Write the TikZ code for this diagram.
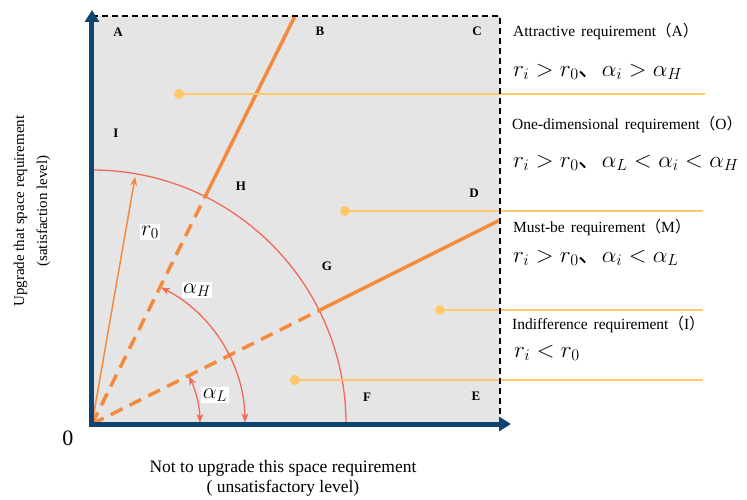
\documentclass[tikz,border=0pt]{standalone}
\usepackage{fontspec}
\setmainfont{Liberation Serif}
\newfontfamily\cjk{Noto Sans CJK SC}
\usetikzlibrary{arrows.meta}
\definecolor{axisblue}{RGB}{14,68,112}
\definecolor{boxgray}{RGB}{229,229,229}
\definecolor{rayorange}{RGB}{246,138,60}
\definecolor{arcred}{RGB}{242,104,90}
\definecolor{leadyellow}{RGB}{255,200,105}
\begin{document}
\begin{tikzpicture}[x=1pt,y=1pt,
		axisline/.style={axisblue,line width=5pt,line join=miter,
			{Triangle[length=12pt,width=14pt]}-{Triangle[length=12pt,width=14pt]}},
		regionlabel/.style={font=\fontsize{13}{15}\selectfont\bfseries,inner sep=0pt},
		reqtitle/.style={anchor=west,inner sep=0pt,font=\fontsize{15.5}{18}\selectfont},
		reqformula/.style={anchor=west,inner sep=0pt,font=\fontsize{20.74}{24}\selectfont,
			scale=1.12,transform shape},
		mathlabel/.style={fill=white,inner sep=1.5pt,font=\fontsize{20.74}{24}\selectfont,
			scale=1.06,transform shape},
		solidray/.style={rayorange,line width=3.5pt},
		dashedray/.style={rayorange,line width=3.5pt,dash pattern=on 13pt off 8pt},
		anglearc/.style={arcred,line width=1.3pt,{Stealth[length=9pt,width=7pt]}-{Stealth[length=9pt,width=7pt]}},
		yellowline/.style={leadyellow,line width=2.5pt},
		yellowdot/.style={circle,fill=leadyellow,inner sep=0pt,minimum size=10pt}]
	\useasboundingbox (-92,-75) rectangle (655,424);
	% corners of the region
	\coordinate (O) at (0,0);
	\coordinate (tl) at (0,408);
	\coordinate (tr) at (408,408);
	\coordinate (br) at (408,0);
	\coordinate (ytip) at (0,414);
	\coordinate (xtip) at (419,0);
	\fill [boxgray] (O) rectangle (tr);
	% threshold circle r0
	\draw [arcred,line width=1.3pt] (0:254) arc [start angle=0,end angle=90,radius=254];
	% rays alpha_H and alpha_L
	\coordinate (hcut) at (63.55:254);
	\coordinate (hend) at (203,408);
	\coordinate (lcut) at (26.57:254);
	\coordinate (lend) at (408,204);
	\draw [dashedray] (O) -- (hcut);
	\draw [solidray] (hcut) -- (hend);
	\draw [dashedray] (O) -- (lcut);
	\draw [solidray] (lcut) -- (lend);
	% radius r0
	\coordinate (rtip) at (80.1:251);
	\draw [rayorange,line width=1.5pt,-{Stealth[length=9pt,width=7pt]}] (O) -- (rtip);
	\node [mathlabel] (rlab) at (58,192) {$r_0$};
	% angle arcs
	\draw [anglearc] (63.2:153) arc [start angle=63.2,end angle=0.6,radius=153];
	\draw [anglearc] (26.2:108) arc [start angle=26.2,end angle=0.6,radius=108];
	\node [mathlabel] (ahlab) at (105,134) {$\alpha_H$};
	\node [mathlabel] (allab) at (123,29) {$\alpha_L$};
	% leader lines
	\node [yellowdot] (dotA) at (87,330) {};
	\coordinate (endA) at (613,330);
	\draw [yellowline] (dotA.center) -- (endA);
	\node [yellowdot] (dotO) at (253,213) {};
	\coordinate (endO) at (611,213);
	\draw [yellowline] (dotO.center) -- (endO);
	\node [yellowdot] (dotM) at (348,114) {};
	\coordinate (endM) at (611,114);
	\draw [yellowline] (dotM.center) -- (endM);
	\node [yellowdot] (dotI) at (203,44) {};
	\coordinate (endI) at (611,44);
	\draw [yellowline] (dotI.center) -- (endI);
	% dashed border
	\draw [black,line width=1.5pt,dash pattern=on 6pt off 4pt] (tl) -- (tr) -- (br);
	% axes
	\draw [axisline] (ytip) -- (O) -- (xtip);
	% region letters
	\node [regionlabel] (A) at (26,392) {A};
	\node [regionlabel] (B) at (228,393) {B};
	\node [regionlabel] (C) at (385,393) {C};
	\node [regionlabel] (D) at (382,231) {D};
	\node [regionlabel] (E) at (384,28) {E};
	\node [regionlabel] (F) at (275,27) {F};
	\node [regionlabel] (G) at (235,158) {G};
	\node [regionlabel] (H) at (149,238) {H};
	\node [regionlabel] (I) at (24,291) {I};
	% axis texts
	\node [font=\fontsize{22}{24}\selectfont] (zero) at (-24,-14) {0};
	\node [font=\fontsize{17.5}{20}\selectfont,align=center] (xlab) at (191,-54)
		{Not to upgrade this space requirement\\( unsatisfactory level)};
	\node [font=\fontsize{15}{23}\selectfont,align=center,rotate=90] (ylab) at (-60,213)
		{Upgrade that space requirement\\(satisfaction level)};
	% requirement types
	\node [reqtitle] (tA) at (421,392) {Attractive\hspace{6pt}requirement{\cjk （}A{\cjk ）}};
	\node [reqformula] (fA) at (421,352) {$r_i>r_0${\cjk 、}$\alpha_i>\alpha_H$};
	\node [reqtitle] (tO) at (420,299) {One-dimensional\hspace{6pt}requirement{\cjk （}O{\cjk ）}};
	\node [reqformula] (fO) at (421,261) {$r_i>r_0${\cjk 、}$\alpha_L<\alpha_i<\alpha_H$};
	\node [reqtitle] (tM) at (421,196) {Must-be\hspace{6pt}requirement{\cjk （}M{\cjk ）}};
	\node [reqformula] (fM) at (421,166) {$r_i>r_0${\cjk 、}$\alpha_i<\alpha_L$};
	\node [reqtitle] (tI) at (420,99) {Indifference\hspace{6pt}requirement{\cjk （}I{\cjk ）}};
	\node [reqformula] (fI) at (422,71) {$r_i<r_0$};
\end{tikzpicture}
\end{document}
